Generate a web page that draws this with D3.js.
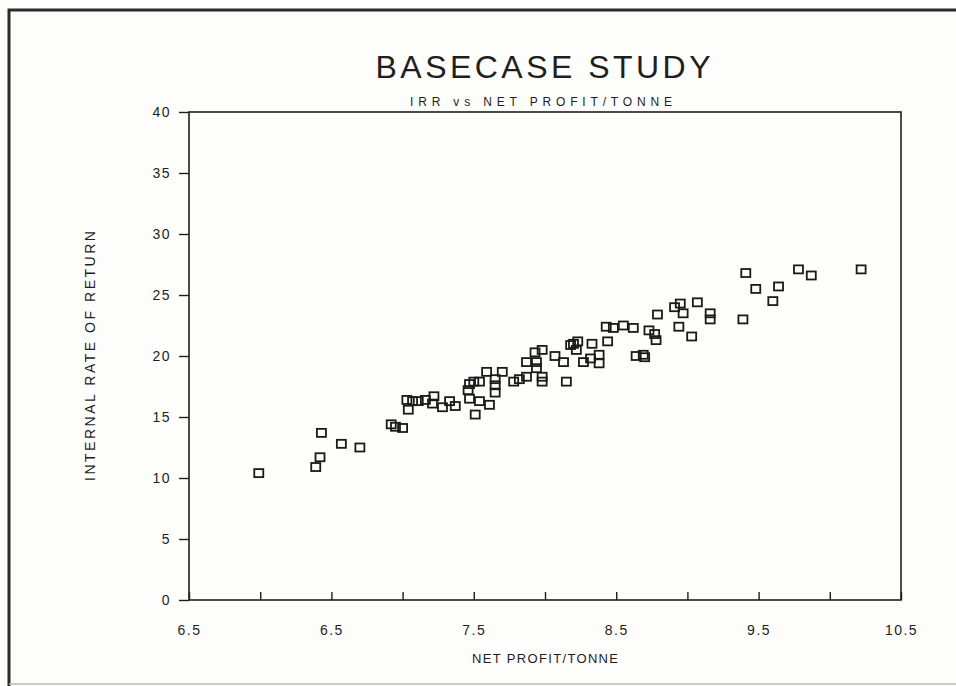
<!DOCTYPE html>
<html lang="en">
  <head>
    <meta charset="UTF-8" />
    <title>BASECASE STUDY</title>
    <style>
        body{
            margin: 0;
            background: #fdfdfc;
        }
        svg text{
            font-family: "Liberation Sans", "DejaVu Sans", sans-serif;
            fill: #1e1e1e;
        }
        .xAxis path, .yAxis path{
            display: none;
        }
        .xAxis line, .yAxis line{
            stroke: #1e1e1e;
            stroke-width: 1.4;
        }
        .xAxis text, .yAxis text{
            font-size: 14px;
            letter-spacing: 1.5px;
        }
    </style>
    <script src="https://d3js.org/d3.v7.min.js"></script>
  </head>
  <body>
    <script>
        // net profit per tonne against internal rate of return
        const netProfit = [
            5.99, 6.43, 6.42, 6.39, 6.57, 6.70, 6.92, 6.95, 7.00, 7.03,
            7.04, 7.07, 7.11, 7.16, 7.22, 7.21, 7.28, 7.33, 7.37, 7.47,
            7.50, 7.54, 7.46, 7.47, 7.54, 7.51, 7.59, 7.65, 7.65, 7.65,
            7.61, 7.70, 7.78, 7.82, 7.87, 7.87, 7.93, 7.98, 7.94, 7.94,
            7.98, 7.98, 8.07, 8.13, 8.15, 8.20, 8.22, 8.18, 8.23, 8.27,
            8.32, 8.33, 8.38, 8.38, 8.43, 8.48, 8.44, 8.55, 8.62, 8.64,
            8.69, 8.70, 8.73, 8.77, 8.78, 8.79, 8.91, 8.95, 8.97, 8.94,
            9.03, 9.07, 9.16, 9.16, 9.41, 9.48, 9.64, 9.60, 9.39, 9.78,
            9.87, 10.22
        ];
        const irr = [
            10.4, 13.7, 11.7, 10.9, 12.8, 12.5, 14.4, 14.2, 14.1, 16.4,
            15.6, 16.3, 16.3, 16.4, 16.7, 16.1, 15.8, 16.3, 15.9, 17.7,
            17.9, 17.9, 17.2, 16.5, 16.3, 15.2, 18.7, 18.1, 17.6, 17.0,
            16.0, 18.7, 17.9, 18.1, 18.3, 19.5, 20.3, 20.5, 19.5, 19.0,
            18.3, 17.9, 20.0, 19.5, 17.9, 21.0, 20.5, 20.9, 21.2, 19.5,
            19.8, 21.0, 20.1, 19.4, 22.4, 22.3, 21.2, 22.5, 22.3, 20.0,
            20.1, 19.9, 22.1, 21.8, 21.3, 23.4, 24.0, 24.3, 23.5, 22.4,
            21.6, 24.4, 23.5, 23.0, 26.8, 25.5, 25.7, 24.5, 23.0, 27.1,
            26.6, 27.1
        ];
        const xTicks = [5.5, 6.5, 7.5, 8.5, 9.5, 10.5];
        const xTickLabels = ["6.5", "6.5", "7.5", "8.5", "9.5", "10.5"];
        const xMinorTicks = [6, 7, 8, 9, 10];
        const yTicks = [0, 5, 10, 15, 20, 25, 30, 35, 40];

        const width = 956;
        const height = 686;
        const margin = {top: 112, right: 55, bottom: 86, left: 189};
        const plotW = width - margin.left - margin.right;
        const plotH = height - margin.top - margin.bottom;

        const svg = d3.select("body")
                    .append("svg")
                    .attr("width", width)
                    .attr("height", height);

        // page frame
        svg.append("path")
            .attr("d", `M9,686 L9,10 L956,10`)
            .attr("fill", "none")
            .attr("stroke", "#2a2a2a")
            .attr("stroke-width", 3);
        svg.append("line")
            .attr("x1", 9).attr("x2", 956)
            .attr("y1", 684).attr("y2", 684)
            .attr("stroke", "#bbb")
            .attr("stroke-width", 1.5);

        const scaleX = d3.scaleLinear().domain([5.5, 10.5]).range([0, plotW]);
        const scaleY = d3.scaleLinear().domain([0, 40]).range([plotH, 0]);

        const g = svg.append("g")
                    .attr("transform", `translate(${margin.left},${margin.top})`);

        // plot box
        g.append("rect")
            .attr("width", plotW)
            .attr("height", plotH)
            .attr("fill", "none")
            .attr("stroke", "#1e1e1e")
            .attr("stroke-width", 1.6);

        const axisX = d3.axisBottom(scaleX)
                        .tickValues(xTicks)
                        .tickFormat((d, i) => xTickLabels[i])
                        .tickSizeInner(-8)
                        .tickPadding(25);
        const axisXMinor = d3.axisBottom(scaleX)
                        .tickValues(xMinorTicks)
                        .tickFormat("")
                        .tickSizeInner(-8);
        const axisY = d3.axisLeft(scaleY)
                        .tickValues(yTicks)
                        .tickSizeInner(10)
                        .tickPadding(8);

        g.append("g")
            .attr("transform", `translate(0,${plotH})`)
            .classed("xAxis", true)
            .call(axisX);
        g.append("g")
            .attr("transform", `translate(0,${plotH})`)
            .classed("xAxis", true)
            .call(axisXMinor);
        g.append("g")
            .classed("yAxis", true)
            .call(axisY);

        // square markers
        const points = netProfit.map((x, i) => ({x: x, y: irr[i]}));
        const size = 9;
        g.append("g")
            .selectAll("rect")
            .data(points)
            .join("rect")
            .attr("x", d => scaleX(d.x) - size / 2)
            .attr("y", d => scaleY(d.y) - size / 2 + 0.5)
            .attr("width", size)
            .attr("height", size - 1)
            .attr("fill", "none")
            .attr("stroke", "#1a1a1a")
            .attr("stroke-width", 1.8);

        // titles
        svg.append("text")
            .attr("x", 543)
            .attr("y", 78)
            .attr("text-anchor", "middle")
            .attr("font-size", 32)
            .attr("textLength", 335)
            .attr("lengthAdjust", "spacing")
            .text("BASECASE STUDY");
        svg.append("text")
            .attr("x", 541)
            .attr("y", 106)
            .attr("text-anchor", "middle")
            .attr("font-size", 12)
            .attr("textLength", 262)
            .attr("lengthAdjust", "spacing")
            .text("IRR vs NET PROFIT/TONNE");
        svg.append("text")
            .attr("x", margin.left + plotW / 2)
            .attr("y", 663)
            .attr("text-anchor", "middle")
            .attr("font-size", 13)
            .attr("textLength", 146)
            .attr("lengthAdjust", "spacing")
            .text("NET PROFIT/TONNE");
        svg.append("text")
            .attr("transform", `translate(95,${margin.top + plotH / 2}) rotate(-90)`)
            .attr("text-anchor", "middle")
            .attr("font-size", 14)
            .attr("textLength", 250)
            .attr("lengthAdjust", "spacing")
            .text("INTERNAL RATE OF RETURN");
    </script>
  </body>
</html>
